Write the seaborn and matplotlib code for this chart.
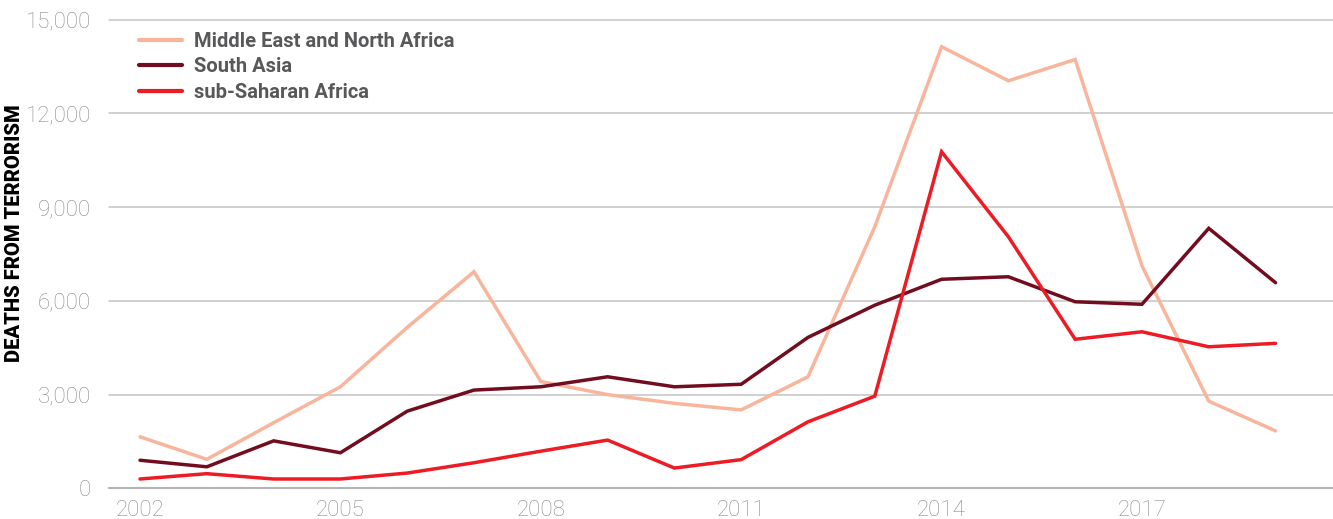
import numpy as np
import pandas as pd
import seaborn as sns
import matplotlib
matplotlib.use("Agg")
import matplotlib.pyplot as plt
from matplotlib.ticker import FuncFormatter

years = list(range(2002, 2020))
mena = [1650, 930, 2100, 3250, 5150, 6930, 3420, 3000, 2720, 2510,
        3570, 8370, 14130, 13040, 13720, 7120, 2790, 1840]
south_asia = [900, 690, 1520, 1140, 2470, 3145, 3250, 3570, 3250, 3330,
              4830, 5860, 6690, 6770, 5970, 5890, 8320, 6580]
ssa = [300, 470, 300, 300, 490, 820, 1190, 1545, 650, 920,
       2130, 2950, 10770, 8050, 4770, 5010, 4530, 4640]

regions = ["Middle East and North Africa", "South Asia", "sub-Saharan Africa"]
colors = ["#F9B59C", "#720D1F", "#ED1C24"]

df = pd.DataFrame({
    "year": years * 3,
    "deaths": mena + south_asia + ssa,
    "region": [regions[0]] * len(years) + [regions[1]] * len(years) + [regions[2]] * len(years),
})

sns.set_theme(style="white")
plt.rcParams["font.family"] = ["Roboto", "DejaVu Sans"]

fig = plt.figure(figsize=(13.33, 5.19), dpi=100)
ax = fig.add_axes([0.0818, 0.0560, 0.9182, 0.9064])

sns.lineplot(data=df, x="year", y="deaths", hue="region",
             palette=dict(zip(regions, colors)), hue_order=regions,
             linewidth=2.5, ax=ax, legend=True, zorder=3)
for ln in ax.lines:
    ln.set_clip_on(False)
    ln.set_solid_joinstyle("miter")

ax.set_xlim(2001.536, 2019.86)
ax.set_ylim(-50, 15000)
ax.set_xticks([2002, 2005, 2008, 2011, 2014, 2017])
ax.set_yticks(np.arange(0, 15001, 3000))
ax.yaxis.set_major_formatter(FuncFormatter(lambda v, p: f"{int(v):,}"))
ax.grid(axis="y", color="#c4c4c4", linewidth=1.1)
ax.grid(axis="x", visible=False)
ax.set_axisbelow(True)
for gl in ax.get_ygridlines():
    gl.set_clip_on(False)
# baseline rule at zero
ax.axhline(0, color="#b4b4b4", linewidth=1.5, zorder=1, clip_on=False)
for s in ax.spines.values():
    s.set_visible(False)

ax.tick_params(axis="both", length=0, labelsize=16, labelcolor="#8a8a8a")
ax.tick_params(axis="y", pad=13)
ax.tick_params(axis="x", pad=7)
for lab in ax.get_xticklabels() + ax.get_yticklabels():
    lab.set_fontweight("light")

ax.set_xlabel("")
ax.set_ylabel("DEATHS FROM TERRORISM", fontsize=14.5, fontweight="black", color="#000000")
ax.yaxis.set_label_coords(-0.0694, 0.5457)

leg = ax.legend(loc="upper left", bbox_to_anchor=(0.0245, 0.974), frameon=False,
                fontsize=14.5, handlelength=2.15, handletextpad=0.6,
                labelspacing=0.32, borderpad=0, borderaxespad=0)
for t in leg.get_texts():
    t.set_fontweight("bold")
    t.set_color("#58585A")
for h in leg.get_lines():
    h.set_linewidth(3)

fig.savefig("out.png", dpi=100)
